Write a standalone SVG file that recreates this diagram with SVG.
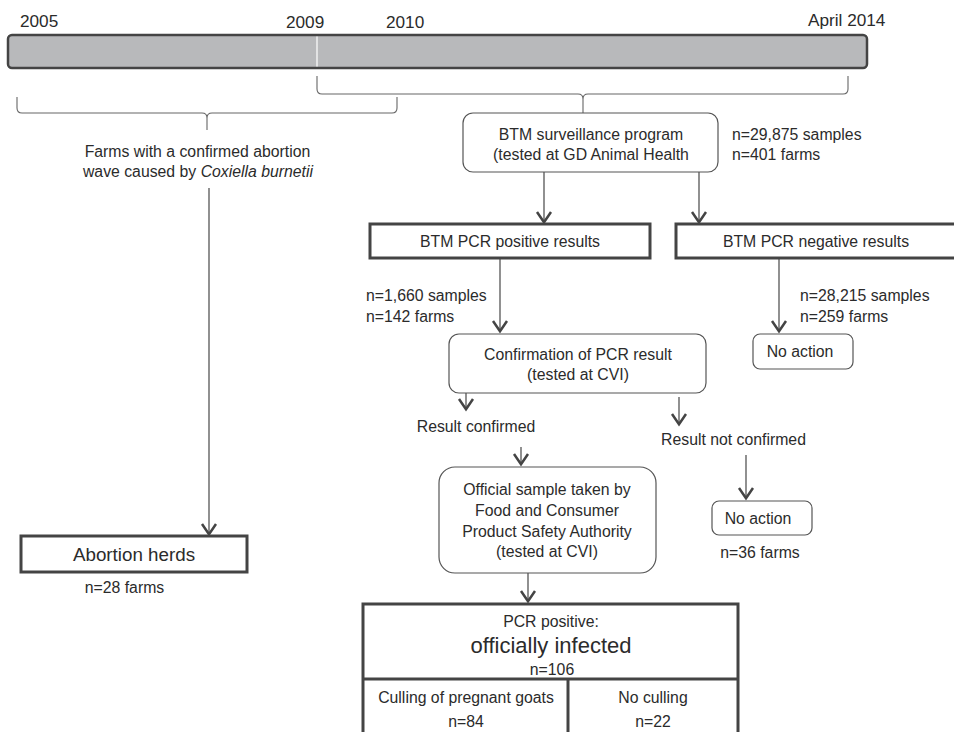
<svg xmlns="http://www.w3.org/2000/svg" width="954" height="732" viewBox="0 0 954 732">
<style>
text{font-family:"Liberation Sans",Arial,sans-serif;font-size:15.8px;fill:#2b2b2b}
.c{text-anchor:middle}
.yr{font-size:17.2px}
.big{font-size:18.8px}
.huge{font-size:22px}
.thin{fill:#fff;stroke:#555;stroke-width:1.2}
.thick{fill:#fff;stroke:#444;stroke-width:3}
.ln{fill:none;stroke:#555;stroke-width:1.3}
.br{fill:none;stroke:#666;stroke-width:1.1}
</style>
<defs>
<marker id="ah" viewBox="-13 -9 15 18" refX="0" refY="0" markerWidth="15" markerHeight="18" markerUnits="userSpaceOnUse" orient="auto">
<path d="M-11,-7 L-0.8,0 L-11,7" fill="none" stroke="#444" stroke-width="2.5"/>
</marker>
</defs>
<g id="timeline">
<rect x="8" y="35" width="859" height="33" rx="4" fill="#b8b9bb" stroke="#444" stroke-width="2.5"/>
<line x1="317" y1="36.5" x2="317" y2="66.5" stroke="#fff" stroke-width="1.2"/>
<text class="yr" x="20" y="27">2005</text>
<text class="yr" x="286" y="28">2009</text>
<text class="yr" x="386" y="28">2010</text>
<text class="yr" x="808" y="26">April 2014</text>
</g>
<g id="brackets">
<path class="br" d="M17,97 L17,108 Q17,113 22,113 L202,113 Q207,113 207,118 L207,130 M207,118 Q207,113 212,113 L392,113 Q397,113 397,108 L397,97"/>
<path class="br" d="M317,76 L317,89 Q317,94 322,94 L578,94 Q583,94 583,99 L583,113 M583,99 Q583,94 588,94 L843,94 Q848,94 848,89 L848,76"/>
</g>
<g id="connectors">
<line class="ln" x1="209" y1="188" x2="209" y2="535" marker-end="url(#ah)"/>
<line class="ln" x1="544" y1="172" x2="544" y2="223" marker-end="url(#ah)"/>
<line class="ln" x1="699" y1="172" x2="699" y2="223" marker-end="url(#ah)"/>
<line class="ln" x1="500" y1="258" x2="500" y2="332" marker-end="url(#ah)"/>
<line class="ln" x1="779" y1="258" x2="779" y2="332" marker-end="url(#ah)"/>
<line class="ln" x1="466" y1="393" x2="466" y2="410" marker-end="url(#ah)"/>
<line class="ln" x1="679" y1="397" x2="679" y2="425" marker-end="url(#ah)"/>
<line class="ln" x1="521" y1="447" x2="521" y2="465" marker-end="url(#ah)"/>
<line class="ln" x1="746" y1="455" x2="746" y2="499" marker-end="url(#ah)"/>
<line class="ln" x1="528" y1="573" x2="528" y2="602" marker-end="url(#ah)"/>
</g>
<g id="farms">
<text class="c" x="197.5" y="157">Farms with a confirmed abortion</text>
<text class="c" x="198" y="177">wave caused by <tspan font-style="italic">Coxiella burnetii</tspan></text>
</g>
<g id="btm-surveillance">
<rect class="thin" x="463" y="113" width="255" height="59" rx="10"/>
<text class="c" x="591" y="140">BTM surveillance program</text>
<text class="c" x="591" y="160">(tested at GD Animal Health</text>
<text x="732" y="140">n=29,875 samples</text>
<text x="732" y="160">n=401 farms</text>
</g>
<g id="pcr-positive">
<rect class="thick" x="370" y="224" width="280" height="34"/>
<text class="c" x="510" y="247">BTM PCR positive results</text>
<text x="366" y="301">n=1,660 samples</text>
<text x="366" y="322">n=142 farms</text>
</g>
<g id="pcr-negative">
<rect class="thick" x="676" y="224" width="284" height="34"/>
<text class="c" x="816" y="247">BTM PCR negative results</text>
<text x="800" y="301">n=28,215 samples</text>
<text x="800" y="322">n=259 farms</text>
</g>
<g id="confirmation">
<rect class="thin" x="449" y="334" width="257" height="59" rx="10"/>
<text class="c" x="578" y="360">Confirmation of PCR result</text>
<text class="c" x="578" y="380">(tested at CVI)</text>
</g>
<g id="no-action-1">
<rect class="thin" x="753" y="334" width="100" height="35" rx="7"/>
<text class="c" x="800" y="357">No action</text>
</g>
<g id="result-confirmed">
<text class="c" x="476" y="432">Result confirmed</text>
</g>
<g id="result-not-confirmed">
<text class="c" x="733.5" y="445">Result not confirmed</text>
</g>
<g id="official-sample">
<rect class="thin" x="439" y="467" width="217" height="106" rx="16"/>
<text class="c" x="547" y="495">Official sample taken by</text>
<text class="c" x="547" y="516">Food and Consumer</text>
<text class="c" x="547" y="537">Product Safety Authority</text>
<text class="c" x="547" y="557">(tested at CVI)</text>
</g>
<g id="no-action-2">
<rect class="thin" x="712" y="501" width="100" height="34" rx="7"/>
<text class="c" x="758" y="524">No action</text>
<text class="c" x="760" y="558">n=36 farms</text>
</g>
<g id="abortion-herds">
<rect class="thick" x="21" y="536" width="226" height="36"/>
<text class="c big" x="134" y="561">Abortion herds</text>
<text class="c" x="124.5" y="593">n=28 farms</text>
</g>
<g id="officially-infected">
<rect class="thick" x="363" y="604" width="375" height="132"/>
<line x1="363" y1="679" x2="738" y2="679" stroke="#444" stroke-width="3"/>
<line x1="568" y1="679" x2="568" y2="736" stroke="#444" stroke-width="3"/>
<text class="c" x="551" y="627">PCR positive:</text>
<text class="c huge" x="551" y="653">officially infected</text>
<text class="c" x="552" y="675">n=106</text>
</g>
<g id="culling">
<text class="c" x="466" y="703">Culling of pregnant goats</text>
<text class="c" x="466" y="727">n=84</text>
</g>
<g id="no-culling">
<text class="c" x="653" y="703">No culling</text>
<text class="c" x="653" y="727">n=22</text>
</g>
</svg>
